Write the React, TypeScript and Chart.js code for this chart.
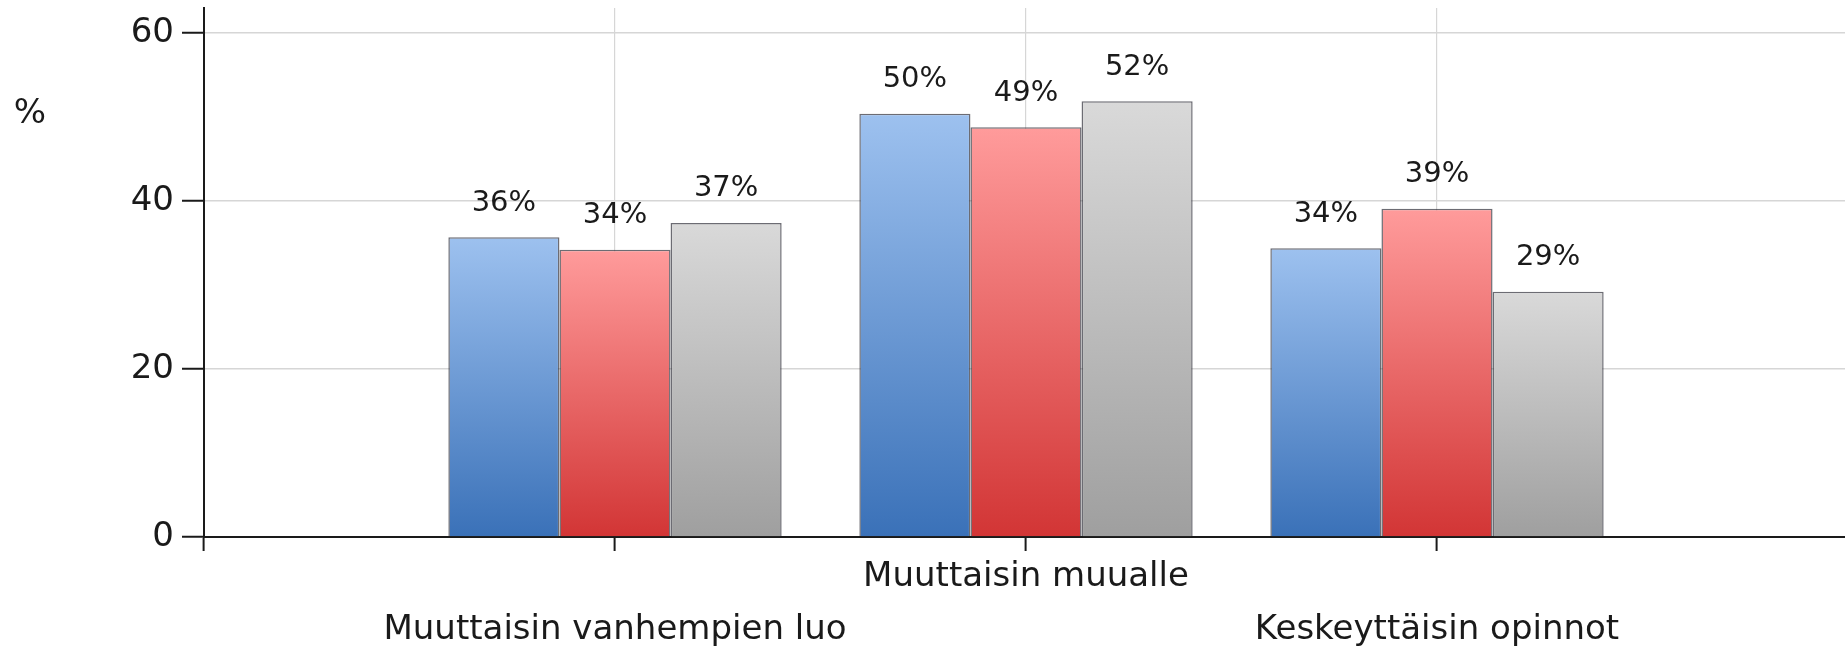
import React, { useEffect, useRef } from "react";
import { Chart, registerables } from "chart.js";

Chart.register(...registerables);

const categories = ["", "Muuttaisin vanhempien luo", "Muuttaisin muualle", "Keskeyttäisin opinnot", ""];
const seriesNames = ["Sarja 1", "Sarja 2", "Sarja 3"];
const blueValues = [35.7, 50.4, 34.4];
const redValues = [34.2, 48.8, 39.1];
const grayValues = [37.4, 51.9, 29.2];
const yTicks = [0, 20, 40, 60];
const yTitle = "%";

const FONT = "'DejaVu Sans', Verdana, sans-serif";
const CANVAS_W = 1848;

const pad = (vals: number[]) => [null, ...vals, null];

function gradientFill(top: string, bottom: string) {
  return (ctx: any) => {
    const chart = ctx.chart;
    const ys = chart.scales && chart.scales.y;
    if (!ys || ctx.raw == null || !chart.chartArea) return bottom;
    const t = ys.getPixelForValue(ctx.raw);
    const b = ys.getPixelForValue(0);
    if (!isFinite(t) || !isFinite(b) || t === b) return bottom;
    const g = chart.ctx.createLinearGradient(0, t, 0, b);
    g.addColorStop(0, top);
    g.addColorStop(1, bottom);
    return g;
  };
}

const labelPlugin = {
  id: "valueLabels",
  afterDatasetsDraw(chart: any) {
    const ctx = chart.ctx;
    ctx.save();
    ctx.font = `29px ${FONT}`;
    ctx.fillStyle = "#1a1a1a";
    ctx.textAlign = "center";
    ctx.textBaseline = "middle";
    chart.data.datasets.forEach((ds: any, di: number) => {
      const meta = chart.getDatasetMeta(di);
      meta.data.forEach((el: any, i: number) => {
        const v = ds.data[i];
        if (v == null) return;
        ctx.fillText(`${Math.round(v)}%`, el.x, el.y - 34);
      });
    });
    ctx.restore();
  },
  afterDraw(chart: any) {
    const ctx = chart.ctx;
    ctx.save();
    ctx.font = `34px ${FONT}`;
    ctx.fillStyle = "#1a1a1a";
    ctx.textAlign = "center";
    ctx.textBaseline = "middle";
    ctx.fillText(yTitle, 30, 114);
    ctx.restore();
  },
};

export default function App() {
  const ref = useRef<HTMLCanvasElement | null>(null);

  useEffect(() => {
    if (!ref.current) return;
    const border = "rgba(45,45,55,0.7)";
    const chart = new Chart(ref.current, {
      type: "bar",
      data: {
        labels: categories,
        datasets: [
          {
            label: seriesNames[0],
            data: pad(blueValues),
            backgroundColor: gradientFill("#9dc1ef", "#3a71b8"),
            borderColor: border,
            borderWidth: 1.5,
          },
          {
            label: seriesNames[1],
            data: pad(redValues),
            backgroundColor: gradientFill("#ff9b9b", "#d23535"),
            borderColor: border,
            borderWidth: 1.5,
          },
          {
            label: seriesNames[2],
            data: pad(grayValues),
            backgroundColor: gradientFill("#d9d9d9", "#9f9f9f"),
            borderColor: border,
            borderWidth: 1.5,
          },
        ] as any,
      },
      options: {
        animation: false,
        responsive: false,
        maintainAspectRatio: false,
        layout: { padding: { top: 8, left: 0, right: 0, bottom: 0 } },
        plugins: {
          legend: { display: false },
          tooltip: { enabled: false },
          title: { display: false },
        },
        datasets: {
          bar: { categoryPercentage: 0.811, barPercentage: 1 },
        },
        scales: {
          x: {
            type: "category",
            offset: false,
            z: 1,
            grid: {
              offset: false,
              drawTicks: true,
              tickLength: 14,
              lineWidth: 1.2,
              color: (c: any) => (c.index === 0 || c.index === 4 ? "rgba(0,0,0,0)" : "rgba(0,0,0,0.16)"),
              tickColor: (c: any) => (c.index === 4 ? "rgba(0,0,0,0)" : "#1a1a1a"),
              tickWidth: 2,
            },
            border: { display: true, color: "#1a1a1a", width: 2 },
            ticks: {
              autoSkip: false,
              maxRotation: 0,
              minRotation: 0,
              padding: 0,
              color: "#1a1a1a",
              font: { family: FONT, size: 34, lineHeight: 1.56 },
              callback: (_v: any, i: number) => {
                const l = categories[i];
                if (!l) return "";
                return i === 2 ? [l] : ["", l];
              },
            },
            afterFit: (s: any) => {
              s.height = 114;
              s.paddingLeft = 0;
              s.paddingRight = 0;
            },
          },
          y: {
            type: "linear",
            min: 0,
            max: 63,
            afterBuildTicks: (s: any) => {
              s.ticks = yTicks.map((v) => ({ value: v }));
            },
            grid: {
              drawTicks: true,
              tickLength: 22,
              lineWidth: 1.5,
              color: (c: any) => (c.index === 0 ? "rgba(0,0,0,0)" : "#d6d6d6"),
              tickColor: "#1a1a1a",
              tickWidth: 2,
            },
            border: { display: true, color: "#1a1a1a", width: 2 },
            ticks: {
              padding: 8,
              color: "#1a1a1a",
              font: { family: FONT, size: 34 },
            },
            afterFit: (s: any) => {
              s.width = 204;
              s.paddingTop = 0;
              s.paddingBottom = 0;
            },
          },
        },
      } as any,
      plugins: [labelPlugin],
    });
    return () => chart.destroy();
  }, []);

  return (
    <div style={{ position: "absolute", left: 0, top: 0, width: 1845, height: 651, overflow: "hidden", background: "#fff" }}>
      <canvas ref={ref} width={CANVAS_W} height={651} style={{ display: "block", width: CANVAS_W, height: 651 }} />
    </div>
  );
}
